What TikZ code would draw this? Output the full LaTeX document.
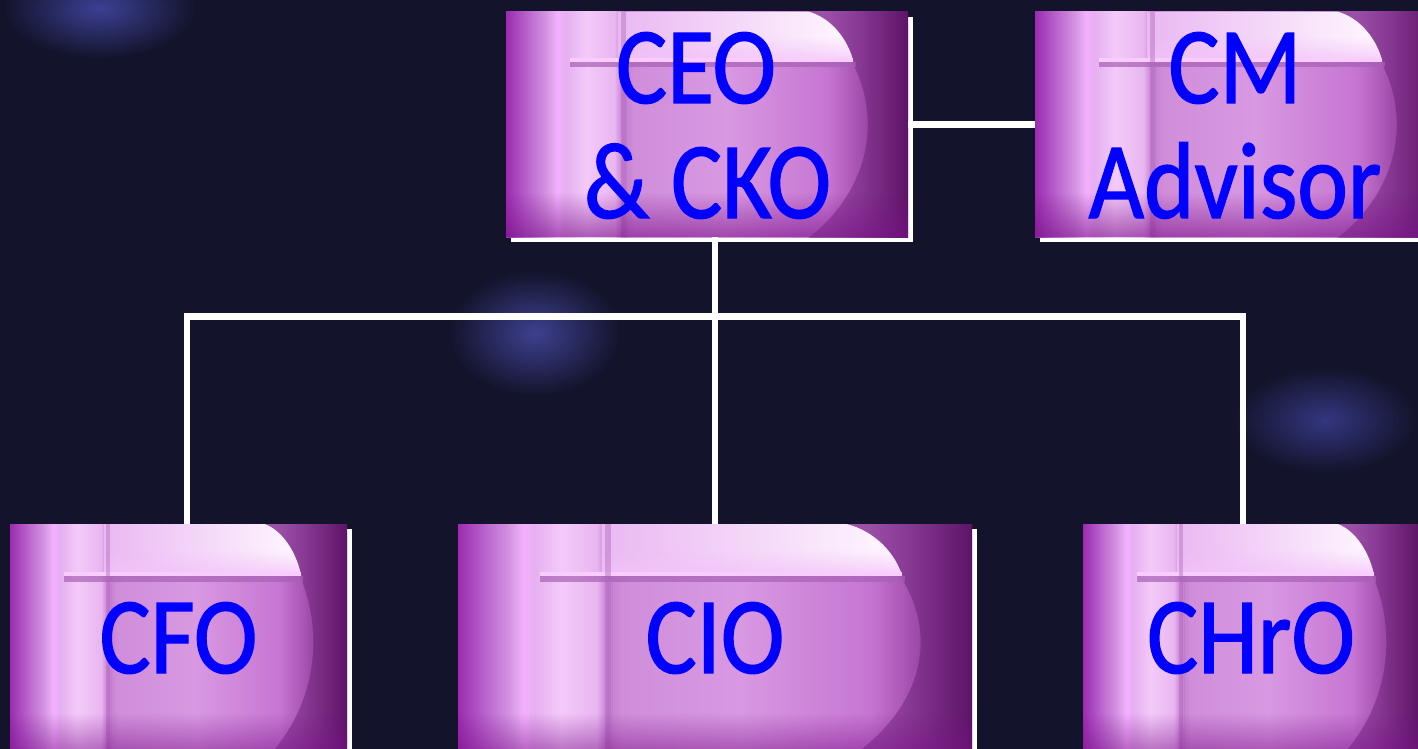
\documentclass[tikz,border=0pt]{standalone}
\usepackage{fontspec}
\newfontfamily\cardfont{Carlito}[FakeStretch=0.88, FakeBold=1.2]
\usetikzlibrary{fadings}

% palette
\definecolor{bg}{HTML}{13142C}
\definecolor{inkblue}{HTML}{0000FF}
\definecolor{glowA}{HTML}{3C4094}
\definecolor{glowB}{HTML}{3E4090}
\definecolor{glowC}{HTML}{343680}
\definecolor{k00}{HTML}{9A2CB0}
\definecolor{k01}{HTML}{B860CC}
\definecolor{k02}{HTML}{D494E2}
\definecolor{k03}{HTML}{EEB0F8}
\definecolor{k04}{HTML}{E6B0F0}
\definecolor{k05}{HTML}{F4CAFA}
\definecolor{k06}{HTML}{E8B6F0}
\definecolor{k07}{HTML}{C47CD0}
\definecolor{k08}{HTML}{D08EDA}
\definecolor{k09}{HTML}{D898E2}
\definecolor{k10}{HTML}{C676D2}
\definecolor{k11}{HTML}{A450B0}
\definecolor{k12}{HTML}{601468}
\definecolor{cardshade}{HTML}{5A1466}
\definecolor{hlleft}{HTML}{EAB8F2}
\definecolor{hlmid}{HTML}{FCEAFE}
\definecolor{hlright}{HTML}{FFF8FF}
\definecolor{hlglow}{HTML}{F4C2FA}
\definecolor{seplight}{HTML}{F8CCFF}
\definecolor{sepdark}{HTML}{A860B4}
\definecolor{stripelight}{HTML}{F4AEFF}
\definecolor{stripedark}{HTML}{B06CBE}
\definecolor{footdark}{HTML}{7A1088}

% left-to-right base colouring of a card (25bp..75bp spans the card)
\pgfdeclarehorizontalshading{cardbase}{100bp}{%
  color(0bp)=(k00); color(25bp)=(k00); color(27.5bp)=(k01);
  color(30bp)=(k02); color(31.25bp)=(k03); color(32.5bp)=(k04);
  color(35bp)=(k05); color(38.5bp)=(k06); color(39.5bp)=(k07);
  color(41bp)=(k08); color(52.5bp)=(k09); color(65bp)=(k10);
  color(69bp)=(k11); color(75bp)=(k12); color(100bp)=(k12)}

\tikzfading[name=fadeup, top color=transparent!100, bottom color=transparent!40]
\tikzfading[name=glowup, top color=transparent!100, bottom color=transparent!20]

\tikzset{
  cardbox/.style={draw=none, inner sep=0pt, outer sep=0pt},
  lbl/.style={text=inkblue, inner sep=0pt, anchor=base,
    font=\cardfont\fontsize{109pt}{115pt}\selectfont},
  conn/.style={draw=white, line width=6.5pt, line join=miter},
}

% \card{name}{left}{top}{right}{bottom}: shadow, textured face, named node
\newcommand\card[5]{%
  \fill[white] (#2+5,#3+5) rectangle (#4+5,#5+5);
  \pgfmathsetmacro\cw{#4-#2}%
  \pgfmathsetmacro\ch{#5-#3}%
  \begin{scope}[shift={(#2,#3)}, x={(\cw pt,0pt)}, y={(0pt,-\ch pt)}]
    \shade[shading=cardbase] (0,0) rectangle (1,1);
    % darker rim outside the large oval on the right
    \begin{scope}
      \clip (0.3,0) rectangle (1,1);
      \fill[cardshade, opacity=0.4, even odd rule]
        (0.3,-0.1) rectangle (1.1,1.1)
        (0.42,0.5) ellipse [x radius=0.48, y radius=0.7];
    \end{scope}
    % glossy band along the top
    \shade[left color=hlleft, middle color=hlmid, right color=hlright]
      (0.28,0) -- (0.756,0) .. controls (0.81,0.03) and (0.85,0.12) .. (0.864,0.22)
      -- (0.28,0.22) -- cycle;
    \begin{scope}
      \clip (0.28,0) -- (0.756,0) .. controls (0.81,0.03) and (0.85,0.12) .. (0.864,0.22)
        -- (0.28,0.22) -- cycle;
      \fill[hlglow, path fading=glowup] (0.28,0.11) rectangle (0.87,0.22);
    \end{scope}
    \fill[seplight] (0.16,0.205) rectangle (0.864,0.222);
    \fill[sepdark, opacity=0.7] (0.16,0.222) rectangle (0.87,0.245);
    \fill[stripelight] (0.128,0) rectangle (0.138,1);
    \fill[stripedark, opacity=0.45] (0.285,0) rectangle (0.298,1);
    \fill[footdark, path fading=fadeup] (0,0.8) rectangle (1,1);
  \end{scope}
  \node[cardbox, minimum width=\cw pt, minimum height=\ch pt]
    (#1) at ({(#2+#4)/2},{(#3+#5)/2}) {};
}

\begin{document}
\begin{tikzpicture}[x=1pt, y=-1pt]
  \useasboundingbox (0,0) rectangle (1418,749);
  \clip (0,0) rectangle (1418,749);

  % backdrop with soft glows
  \fill[bg] (0,0) rectangle (1418,749);
  \shade[inner color=glowA, outer color=bg] (100,8) ellipse [x radius=95, y radius=50];
  \shade[inner color=glowB, outer color=bg] (535,333) ellipse [x radius=85, y radius=62];
  \shade[inner color=glowC, outer color=bg] (1325,420) ellipse [x radius=90, y radius=52];

  % cards
  \card{ceo}{506}{12}{908}{237}
  \card{cm}{1035}{12}{1437}{237}
  \card{cfo}{10}{524}{347}{760}
  \card{cio}{458}{524}{972}{760}
  \card{chro}{1083}{524}{1420}{760}

  % connectors
  \coordinate (busC) at (715,316.5);
  \coordinate (busL) at (187,316.5);
  \coordinate (busR) at (1243,316.5);
  \draw[conn] (ceo.east) -- (cm.west);
  \draw[conn] (ceo.south -| busC) -- (cio.north);
  \draw[conn] (cfo.north -| busL) -- (busL) -- (busR) -- (chro.north -| busR);

  % labels
  \node[lbl] (ceo-a) at (696,103) {CEO};
  \node[lbl] (ceo-b) at (707.5,218) {\& CKO};
  \node[lbl] (cm-a) at (1235,103) {CM};
  \node[lbl] (cm-b) at (1235,218) {Advisor};
  \node[lbl] (cfo-a) at (178.5,673) {CFO};
  \node[lbl] (cio-a) at (715,673) {CIO};
  \node[lbl] (chro-a) at (1251,673) {CHrO};
\end{tikzpicture}
\end{document}
